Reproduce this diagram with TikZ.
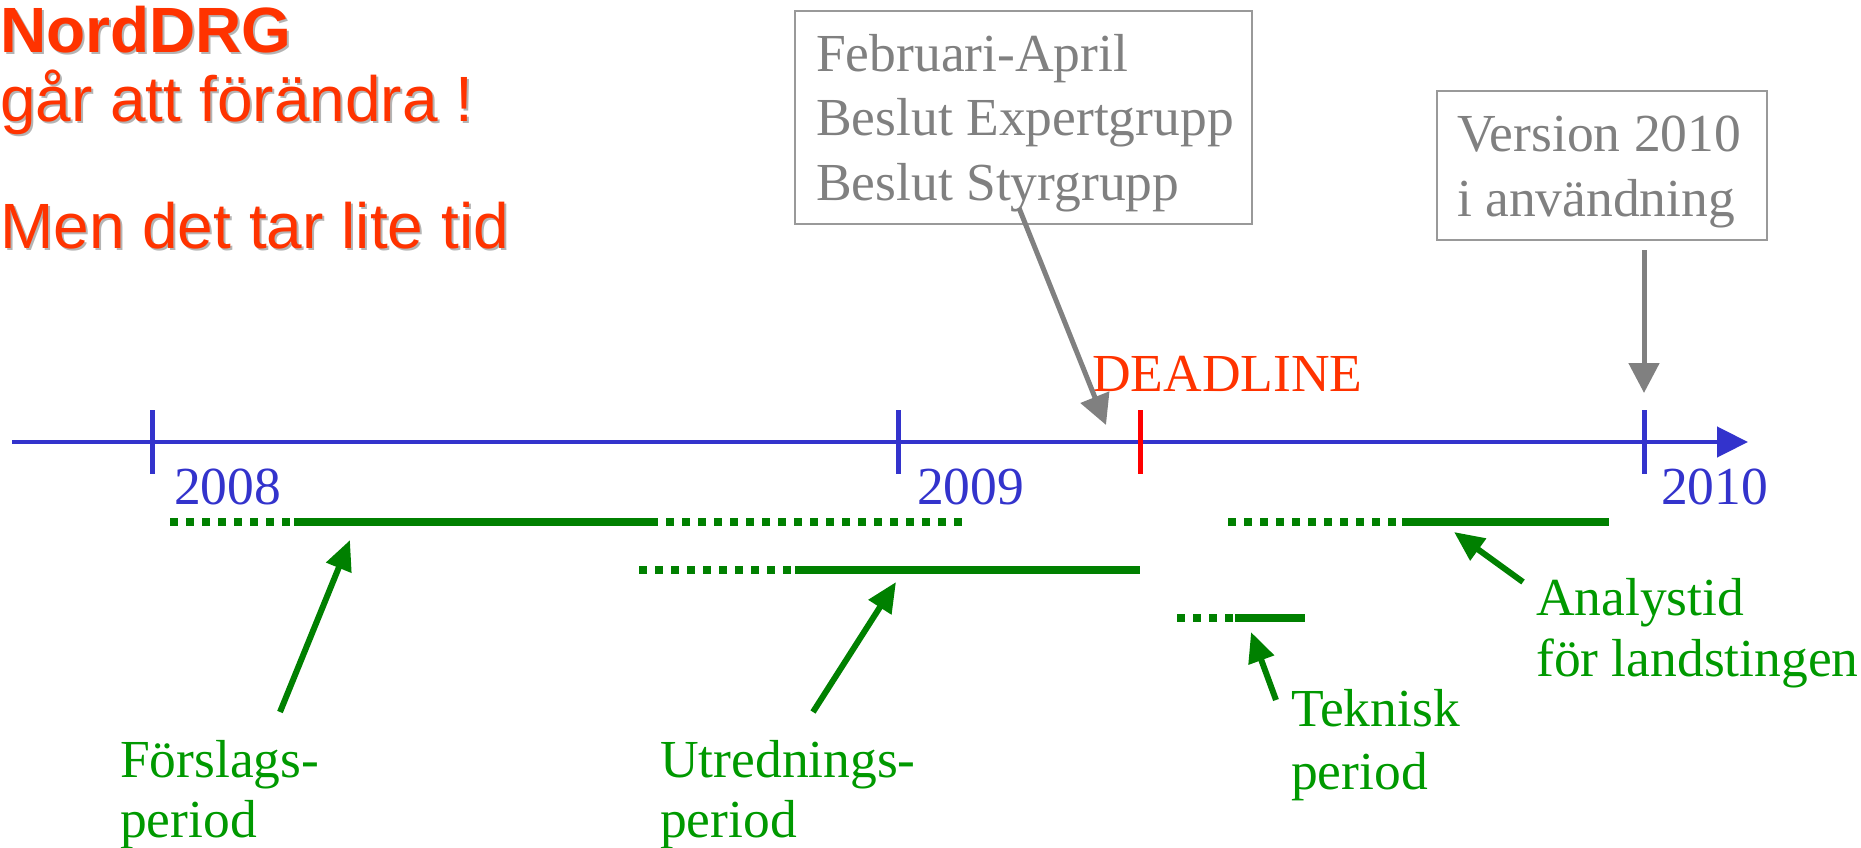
\documentclass[tikz,border=0pt]{standalone}
\usepackage{fontspec}
\setmainfont{Liberation Serif}
\newfontfamily\arialf{Liberation Sans}
\usetikzlibrary{arrows.meta}
\definecolor{titlered}{HTML}{FF3300}
\definecolor{axisblue}{HTML}{3333CC}
\definecolor{tgray}{HTML}{808080}
\definecolor{bgray}{HTML}{999999}
\definecolor{lgreen}{HTML}{008000}
\definecolor{tgreen}{HTML}{009900}
\definecolor{shadowgray}{HTML}{B4B4B4}
\definecolor{dred}{HTML}{FF0000}
\begin{document}
\begin{tikzpicture}[x=1pt,y=-1pt,
  lbl/.style={anchor=base west, inner sep=0pt, font=\fontsize{53.5}{60}\selectfont},
  ttl/.style={anchor=base west, inner sep=0pt, font=\arialf\fontsize{64}{70}\selectfont, text=titlered},
  ttlsh/.style={ttl, text=shadowgray},
  boxst/.style={draw=bgray, line width=2pt, anchor=north west, inner sep=0pt},
  graytxt/.style={lbl, text=tgray},
  greentxt/.style={lbl, text=tgreen},
  yeartxt/.style={lbl, text=axisblue},
  axisline/.style={draw=axisblue, line width=4.5pt, -{Triangle[length=31pt,width=30pt]}},
  tickst/.style={draw=axisblue, line width=5pt},
  grayarrow/.style={draw=tgray, line width=5pt, -{Triangle[length=30pt,width=30pt]}},
  greenarrow/.style={draw=lgreen, line width=6pt, -{Triangle[length=30pt,width=26pt]}},
  solidseg/.style={draw=lgreen, line width=7.5pt},
  dotseg/.style={draw=lgreen, line width=7.5pt, dash pattern=on 8pt off 8pt},
]
\useasboundingbox (0,0) rectangle (1861,848);

% title with shadow
\node[ttlsh, font=\arialf\bfseries\fontsize{64}{70}\selectfont] (t1s) at (2,55) {NordDRG};
\node[ttl, font=\arialf\bfseries\fontsize{64}{70}\selectfont] (t1) at (0,53) {NordDRG};
\node[ttlsh] (t2s) at (2,124) {går att förändra !};
\node[ttl] (t2) at (0,122) {går att förändra !};
\node[ttlsh] (t3s) at (2,250) {Men det tar lite tid};
\node[ttl] (t3) at (0,248) {Men det tar lite tid};

% boxes
\node[boxst, minimum width=457pt, minimum height=213pt] (box1) at (794,10) {};
\node[graytxt] (b1a) at (816,71.5) {Februari-April};
\node[graytxt] (b1b) at (816,136) {Beslut Expertgrupp};
\node[graytxt] (b1c) at (816,200.5) {Beslut Styrgrupp};

\node[boxst, minimum width=330pt, minimum height=149pt] (box2) at (1436,90) {};
\node[graytxt] (b2a) at (1457,151.5) {Version 2010};
\node[graytxt] (b2b) at (1457,216) {i användning};

% axis
\coordinate (axL) at (12,442);
\coordinate (axR) at (1748,442);
\draw[axisline] (axL) -- (axR);
\draw[tickst] (152,410) -- (152,474);
\draw[tickst] (898,410) -- (898,474);
\draw[tickst] (1644,410) -- (1644,474);
\draw[tickst, draw=dred] (1140,410) -- (1140,474);

\node[yeartxt] (y8) at (174,504.5) {2008};
\node[yeartxt] (y9) at (917,504.5) {2009};
\node[yeartxt] (y10) at (1661,504.5) {2010};
\node[lbl, text=titlered] (dl) at (1092,391.5) {DEADLINE};

% gray arrows
\coordinate (g1s) at (1019,208);
\coordinate (g1e) at (1106,425);
\draw[grayarrow] (g1s) -- (g1e);
\coordinate (g2s) at (1644,250);
\coordinate (g2e) at (1644,393);
\draw[grayarrow] (g2s) -- (g2e);

% green period lines
\draw[dotseg] (170,522) -- (290,522);
\draw[solidseg] (294,522) -- (658,522);
\draw[dotseg] (666,522) -- (962,522);

\draw[dotseg] (639,570) -- (791,570);
\draw[solidseg] (795,570) -- (1140,570);

\draw[dotseg] (1177,618) -- (1233,618);
\draw[solidseg] (1235,618) -- (1305,618);

\draw[dotseg] (1228,522) -- (1398,522);
\draw[solidseg] (1402,522) -- (1609,522);

% green labels
\node[greentxt] (fa) at (120,777.5) {Förslags-};
\node[greentxt] (fb) at (120,837) {period};
\node[greentxt] (ua) at (660,777.5) {Utrednings-};
\node[greentxt] (ub) at (660,837) {period};
\node[greentxt] (ta) at (1291,726) {Teknisk};
\node[greentxt] (tb) at (1291,789) {period};
\node[greentxt] (aa) at (1536,615) {Analystid};
\node[greentxt] (ab) at (1536,676.5) {för landstingen};

% green arrows
\coordinate (fs) at (280,712);
\coordinate (fe) at (350,540);
\draw[greenarrow] (fs) -- (fe);
\coordinate (us) at (813,712);
\coordinate (ue) at (896,582);
\draw[greenarrow] (us) -- (ue);
\coordinate (ts) at (1276,700);
\coordinate (te) at (1251,632);
\draw[greenarrow] (ts) -- (te);
\coordinate (as) at (1523,582);
\coordinate (ae) at (1454,532);
\draw[greenarrow] (as) -- (ae);
\end{tikzpicture}
\end{document}
